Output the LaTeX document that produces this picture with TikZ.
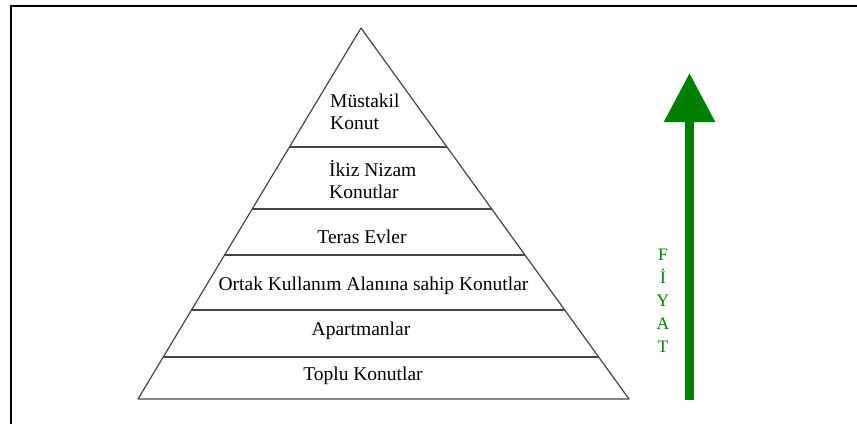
\documentclass[tikz,border=0pt]{standalone}
\usepackage{fontspec}
\setmainfont{Liberation Serif}
\usetikzlibrary{arrows.meta, calc, positioning}
\definecolor{color_fiyat}{RGB}{0,128,0}
\definecolor{color_kenar}{RGB}{70,70,70}

\begin{document}
\begin{tikzpicture}[x=1pt, y=-1pt,
katman/.style={anchor=base, inner sep=0pt, font=\fontsize{19.5}{22}\selectfont},
blok/.style={katman, anchor=base west, align=left},
harf/.style={anchor=base, inner sep=0pt, text=color_fiyat, font=\fontsize{17.5}{23}\selectfont},
kenar/.style={draw=color_kenar, line width=1.2pt}]
\useasboundingbox (0,0) rectangle (857,424);
% CERCEVE
\draw[line width=2pt] (11,424) -- (11,6) -- (857,6);
% PIRAMIT
\coordinate (tepe) at (361,28);
\coordinate (sol) at (138,399);
\coordinate (sag) at (629,399);
\draw[kenar, line join=round] (sol) -- (tepe) -- (sag) -- cycle;
\foreach \t in {0.3208,0.4879,0.6119,0.7601,0.8868}
\draw[kenar] ($(tepe)!\t!(sol)$) -- ($(tepe)!\t!(sag)$);
% KATMANLAR
\node[blok] (mustakil) at (330,129) {Müstakil\\Konut};
\node[blok] (ikiz) at (329,198) {İkiz Nizam\\Konutlar};
\node[katman] (teras) at (362,243) {Teras Evler};
\node[katman] (ortak) at (373.5,290) {Ortak Kullanım Alanına sahip Konutlar};
\node[katman] (apartman) at (361,335) {Apartmanlar};
\node[katman] (toplu) at (363,380) {Toplu Konutlar};
% FIYAT
\coordinate (fiyat alt) at (689.5,400);
\coordinate (fiyat ust) at (689.5,73);
\draw[color_fiyat, line width=9pt, -{Triangle[length=49pt,width=49pt]}] (fiyat alt) -- (fiyat ust);
\foreach \h [count=\i] in {F,İ,Y,A,T}
\node[harf] (harf\i) at (663,{260+23*(\i-1)}) {\h};
\end{tikzpicture}
\end{document}
